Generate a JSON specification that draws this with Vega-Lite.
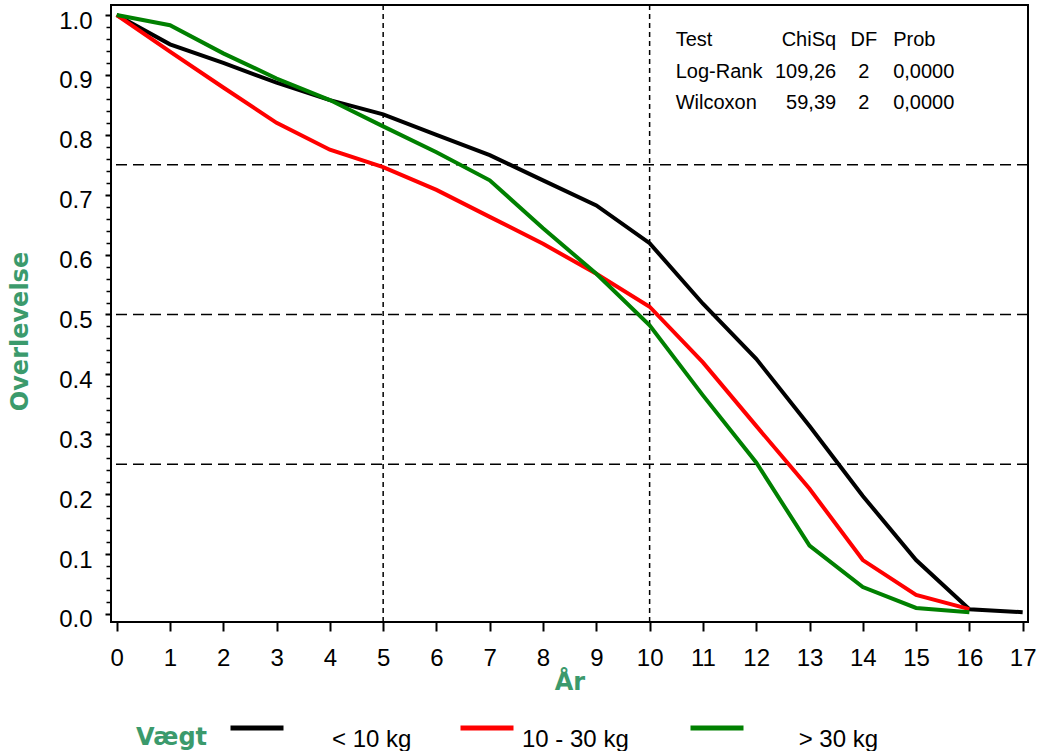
{
  "$schema": "https://vega.github.io/schema/vega-lite/v6.json",
  "width": 917,
  "height": 617,
  "autosize": {"type": "none"},
  "padding": {"left": 111, "top": 5, "right": 10, "bottom": 129},
  "background": "white",
  "config": {
    "view": {"stroke": "black", "strokeWidth": 2},
    "font": "Liberation Sans"
  },
  "datasets": {
    "surv": [
      {"year": 0, "surv": 1.0, "group": "< 10 kg"},
      {"year": 1, "surv": 0.951, "group": "< 10 kg"},
      {"year": 2, "surv": 0.92, "group": "< 10 kg"},
      {"year": 3, "surv": 0.887, "group": "< 10 kg"},
      {"year": 4, "surv": 0.858, "group": "< 10 kg"},
      {"year": 5, "surv": 0.834, "group": "< 10 kg"},
      {"year": 6, "surv": 0.8, "group": "< 10 kg"},
      {"year": 7, "surv": 0.766, "group": "< 10 kg"},
      {"year": 8, "surv": 0.724, "group": "< 10 kg"},
      {"year": 9, "surv": 0.682, "group": "< 10 kg"},
      {"year": 10, "surv": 0.619, "group": "< 10 kg"},
      {"year": 11, "surv": 0.518, "group": "< 10 kg"},
      {"year": 12, "surv": 0.426, "group": "< 10 kg"},
      {"year": 13, "surv": 0.314, "group": "< 10 kg"},
      {"year": 14, "surv": 0.197, "group": "< 10 kg"},
      {"year": 15, "surv": 0.09, "group": "< 10 kg"},
      {"year": 16, "surv": 0.008, "group": "< 10 kg"},
      {"year": 17, "surv": 0.003, "group": "< 10 kg"},
      {"year": 0, "surv": 1.0, "group": "10 - 30 kg"},
      {"year": 1, "surv": 0.939, "group": "10 - 30 kg"},
      {"year": 2, "surv": 0.879, "group": "10 - 30 kg"},
      {"year": 3, "surv": 0.82, "group": "10 - 30 kg"},
      {"year": 4, "surv": 0.775, "group": "10 - 30 kg"},
      {"year": 5, "surv": 0.746, "group": "10 - 30 kg"},
      {"year": 6, "surv": 0.708, "group": "10 - 30 kg"},
      {"year": 7, "surv": 0.663, "group": "10 - 30 kg"},
      {"year": 8, "surv": 0.618, "group": "10 - 30 kg"},
      {"year": 9, "surv": 0.568, "group": "10 - 30 kg"},
      {"year": 10, "surv": 0.513, "group": "10 - 30 kg"},
      {"year": 11, "surv": 0.42, "group": "10 - 30 kg"},
      {"year": 12, "surv": 0.314, "group": "10 - 30 kg"},
      {"year": 13, "surv": 0.209, "group": "10 - 30 kg"},
      {"year": 14, "surv": 0.09, "group": "10 - 30 kg"},
      {"year": 15, "surv": 0.032, "group": "10 - 30 kg"},
      {"year": 16, "surv": 0.008, "group": "10 - 30 kg"},
      {"year": 0, "surv": 1.0, "group": "> 30 kg"},
      {"year": 1, "surv": 0.983, "group": "> 30 kg"},
      {"year": 2, "surv": 0.936, "group": "> 30 kg"},
      {"year": 3, "surv": 0.894, "group": "> 30 kg"},
      {"year": 4, "surv": 0.858, "group": "> 30 kg"},
      {"year": 5, "surv": 0.814, "group": "> 30 kg"},
      {"year": 6, "surv": 0.771, "group": "> 30 kg"},
      {"year": 7, "surv": 0.724, "group": "> 30 kg"},
      {"year": 8, "surv": 0.644, "group": "> 30 kg"},
      {"year": 9, "surv": 0.568, "group": "> 30 kg"},
      {"year": 10, "surv": 0.482, "group": "> 30 kg"},
      {"year": 11, "surv": 0.365, "group": "> 30 kg"},
      {"year": 12, "surv": 0.253, "group": "> 30 kg"},
      {"year": 13, "surv": 0.114, "group": "> 30 kg"},
      {"year": 14, "surv": 0.045, "group": "> 30 kg"},
      {"year": 15, "surv": 0.01, "group": "> 30 kg"},
      {"year": 16, "surv": 0.003, "group": "> 30 kg"}
    ],
    "table": [
      {"test": "Test", "chisq": "ChiSq", "df": "DF", "prob": "Prob", "row": 0.958},
      {"test": "Log-Rank", "chisq": "109,26", "df": "2", "prob": "0,0000", "row": 0.905},
      {"test": "Wilcoxon", "chisq": "59,39", "df": "2", "prob": "0,0000", "row": 0.853}
    ]
  },
  "resolve": {"axis": {"x": "independent", "y": "independent"}},
  "layer": [
    {
      "data": {"values": [{"ref": 0.25}, {"ref": 0.5}, {"ref": 0.75}]},
      "mark": {"type": "rule", "color": "black", "strokeWidth": 1.5, "strokeDash": [11, 6]},
      "encoding": {
        "y": {
          "field": "ref", "type": "quantitative",
          "scale": {"domain": [-0.0134, 1.0167], "nice": false, "zero": false},
          "axis": {
            "orient": "left", "title": null, "labels": false, "domain": false, "grid": false,
            "tickSize": 5, "tickWidth": 1.5, "tickColor": "black",
            "values": [0.02,0.04,0.06,0.08,0.12,0.14,0.16,0.18,0.22,0.24,0.26,0.28,0.32,0.34,0.36,0.38,0.42,0.44,0.46,0.48,0.52,0.54,0.56,0.58,0.62,0.64,0.66,0.68,0.72,0.74,0.76,0.78,0.82,0.84,0.86,0.88,0.92,0.94,0.96,0.98]
          }
        }
      }
    },
    {
      "data": {"values": [{"year": 5}, {"year": 10}]},
      "mark": {"type": "rule", "color": "black", "strokeWidth": 1.5, "strokeDash": [5, 4]},
      "encoding": {
        "x": {
          "field": "year", "type": "quantitative",
          "scale": {"domain": [-0.107, 17.1], "nice": false, "zero": false},
          "axis": null
        }
      }
    },
    {
      "data": {"name": "surv"},
      "mark": {"type": "line", "strokeWidth": 4},
      "encoding": {
        "x": {
          "field": "year", "type": "quantitative",
          "scale": {"domain": [-0.107, 17.1], "nice": false, "zero": false},
          "axis": {
            "orient": "bottom", "title": "År", "values": [0,1,2,3,4,5,6,7,8,9,10,11,12,13,14,15,16,17],
            "domain": false, "grid": false, "tickSize": 9, "tickWidth": 2, "tickColor": "black",
            "labelFont": "Liberation Sans", "labelFontSize": 24, "labelColor": "black", "labelPadding": 15,
            "labelFlush": false, "labelOverlap": false,
            "titleFont": "DejaVu Sans", "titleFontSize": 24, "titleFontWeight": "bold", "titleColor": "#3b9a6c",
            "titlePadding": 0
          }
        },
        "y": {
          "field": "surv", "type": "quantitative",
          "scale": {"domain": [-0.0134, 1.0167], "nice": false, "zero": false},
          "axis": {
            "orient": "left", "title": "Overlevelse", "values": [0,0.1,0.2,0.3,0.4,0.5,0.6,0.7,0.8,0.9,1.0],
            "format": ".1f", "domain": false, "grid": false, "tickSize": 6, "tickWidth": 2, "tickColor": "black",
            "labelFont": "Liberation Sans", "labelFontSize": 24, "labelColor": "black", "labelPadding": 13,
            "labelOffset": 6, "labelFlush": false, "labelOverlap": false,
            "titleFont": "DejaVu Sans", "titleFontSize": 24, "titleFontWeight": "bold", "titleColor": "#3b9a6c",
            "titlePadding": 26, "titleY": 326
          }
        },
        "color": {
          "field": "group", "type": "nominal",
          "scale": {"domain": ["< 10 kg", "10 - 30 kg", "> 30 kg"], "range": ["#000000", "#ff0000", "#008000"]},
          "legend": {
            "orient": "none", "legendX": 25, "legendY": 694, "direction": "horizontal",
            "title": "Vægt", "titleOrient": "left", "titleFont": "DejaVu Sans", "titleFontSize": 24,
            "titleFontWeight": "bold", "titleColor": "#3b9a6c", "titlePadding": 20,
            "titleAnchor": "middle", "titleBaseline": "top",
            "symbolType": "stroke", "symbolSize": 2809, "symbolStrokeWidth": 5,
            "labelFont": "Liberation Sans", "labelFontSize": 24, "labelColor": "black", "labelOffset": 6,
            "labelBaseline": "top",
            "labelLimit": 400, "gridAlign": "all", "columnPadding": 31, "padding": 0,
            "labelExpr": "datum.label == '< 10 kg' ? '\\u200b\\u00a0\\u00a0\\u00a0\\u00a0\\u00a0\\u00a0< 10 kg' : datum.label == '> 30 kg' ? '\\u200b\\u00a0\\u00a0\\u00a0\\u00a0\\u00a0\\u00a0\\u00a0> 30 kg' : datum.label"
          }
        }
      }
    },
    {
      "data": {"name": "table"},
      "mark": {"type": "text", "align": "left", "baseline": "middle", "font": "Liberation Sans", "fontSize": 20, "color": "black"},
      "encoding": {
        "x": {"datum": 10.49, "type": "quantitative", "scale": {"domain": [-0.107, 17.1], "nice": false, "zero": false}, "axis": null},
        "y": {"field": "row", "type": "quantitative", "scale": {"domain": [-0.0134, 1.0167], "nice": false, "zero": false}, "axis": null},
        "text": {"field": "test"}
      }
    },
    {
      "data": {"name": "table"},
      "mark": {"type": "text", "align": "right", "baseline": "middle", "font": "Liberation Sans", "fontSize": 20, "color": "black"},
      "encoding": {
        "x": {"datum": 13.5, "type": "quantitative", "scale": {"domain": [-0.107, 17.1], "nice": false, "zero": false}, "axis": null},
        "y": {"field": "row", "type": "quantitative", "scale": {"domain": [-0.0134, 1.0167], "nice": false, "zero": false}, "axis": null},
        "text": {"field": "chisq"}
      }
    },
    {
      "data": {"name": "table"},
      "mark": {"type": "text", "align": "center", "baseline": "middle", "font": "Liberation Sans", "fontSize": 20, "color": "black"},
      "encoding": {
        "x": {"datum": 14.02, "type": "quantitative", "scale": {"domain": [-0.107, 17.1], "nice": false, "zero": false}, "axis": null},
        "y": {"field": "row", "type": "quantitative", "scale": {"domain": [-0.0134, 1.0167], "nice": false, "zero": false}, "axis": null},
        "text": {"field": "df"}
      }
    },
    {
      "data": {"name": "table"},
      "mark": {"type": "text", "align": "left", "baseline": "middle", "font": "Liberation Sans", "fontSize": 20, "color": "black"},
      "encoding": {
        "x": {"datum": 14.57, "type": "quantitative", "scale": {"domain": [-0.107, 17.1], "nice": false, "zero": false}, "axis": null},
        "y": {"field": "row", "type": "quantitative", "scale": {"domain": [-0.0134, 1.0167], "nice": false, "zero": false}, "axis": null},
        "text": {"field": "prob"}
      }
    }
  ]
}
